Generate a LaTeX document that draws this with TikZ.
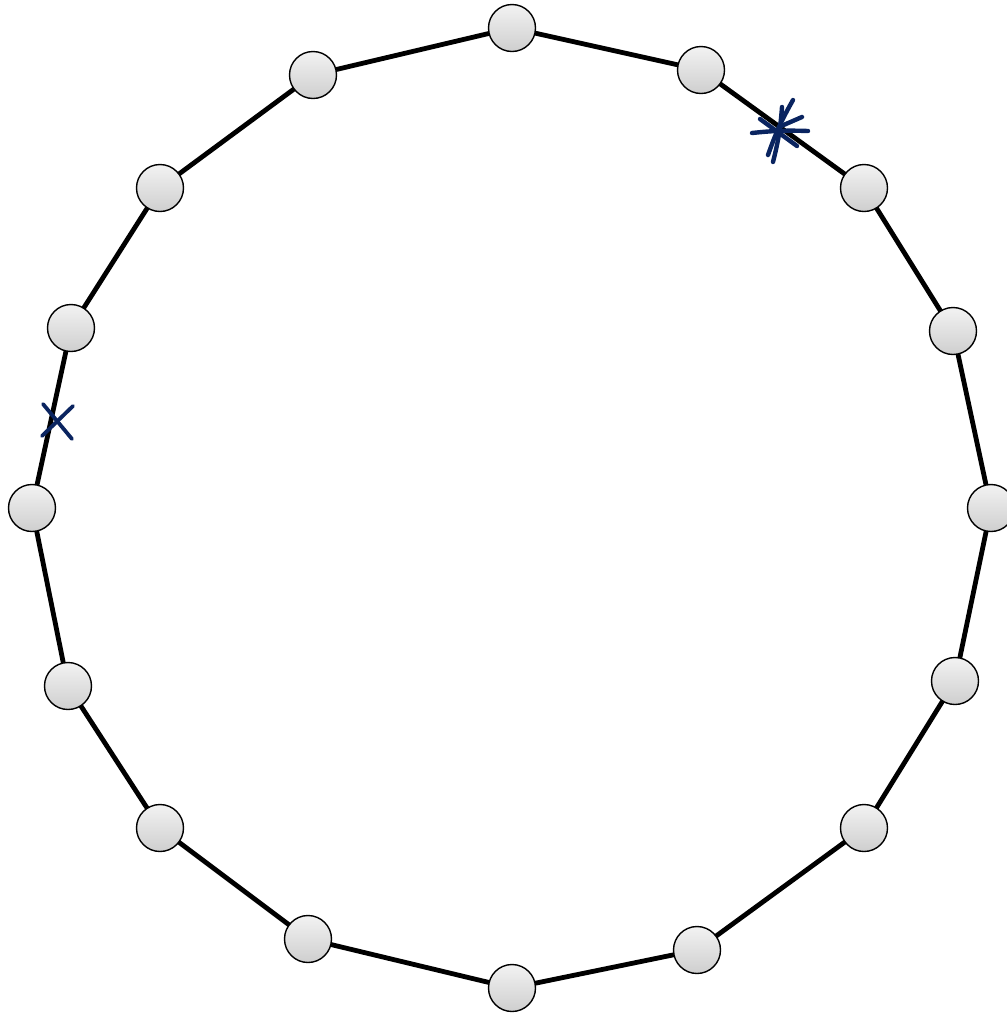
\documentclass[tikz,border=0pt]{standalone}
\begin{document}
\begin{tikzpicture}[x=1pt,y=-1pt,
  vertex/.style={circle,draw=black,line width=1.4pt,minimum size=47pt,inner sep=0pt,top color=gray!10,bottom color=gray!38},
  edge/.style={line width=4.8pt,black},
  penstroke/.style={draw={rgb,255:red,10;green,36;blue,96},line width=4.4pt,line cap=round}]
\useasboundingbox (0,0) rectangle (1007,1013);
\coordinate (c1) at (512,28);
\coordinate (c2) at (701,70);
\coordinate (c3) at (864,188);
\coordinate (c4) at (953,331);
\coordinate (c5) at (991,508);
\coordinate (c6) at (955,681);
\coordinate (c7) at (864,828);
\coordinate (c8) at (697,950);
\coordinate (c9) at (512,988);
\coordinate (c10) at (308,939);
\coordinate (c11) at (160,828);
\coordinate (c12) at (68,686);
\coordinate (c13) at (32,508);
\coordinate (c14) at (71,328);
\coordinate (c15) at (160,188);
\coordinate (c16) at (313,75);
\draw[edge] (c1)--(c2)--(c3)--(c4)--(c5)--(c6)--(c7)--(c8)--(c9)--(c10)--(c11)--(c12)--(c13)--(c14)--(c15)--(c16)--cycle;
\foreach \i in {1,...,16} \node[vertex] (n\i) at (c\i) {};
% asterisk
\coordinate (a1) at (782,107); \coordinate (a2) at (773,162);
\coordinate (a3) at (793,100); \coordinate (a4) at (768,155);
\coordinate (a5) at (752,133); \coordinate (a6) at (808,131);
\coordinate (a7) at (760,119); \coordinate (a8) at (797,146);
\coordinate (a9) at (802,117); \coordinate (a10) at (779,127);
\draw[penstroke] (a1) to[bend left=5] (a2);
\draw[penstroke] (a3) to[bend right=5] (a4);
\draw[penstroke] (a5) to[bend left=4] (a6);
\draw[penstroke] (a7) -- (a8);
\draw[penstroke] (a9) -- (a10);
% cross
\coordinate (x1) at (43,404); \coordinate (x2) at (72,439);
\coordinate (x3) at (73,406); \coordinate (x4) at (42,436);
\draw[penstroke,line width=3.8pt] (x1) -- (x2);
\draw[penstroke,line width=3.8pt] (x3) -- (x4);
\end{tikzpicture}
\end{document}
